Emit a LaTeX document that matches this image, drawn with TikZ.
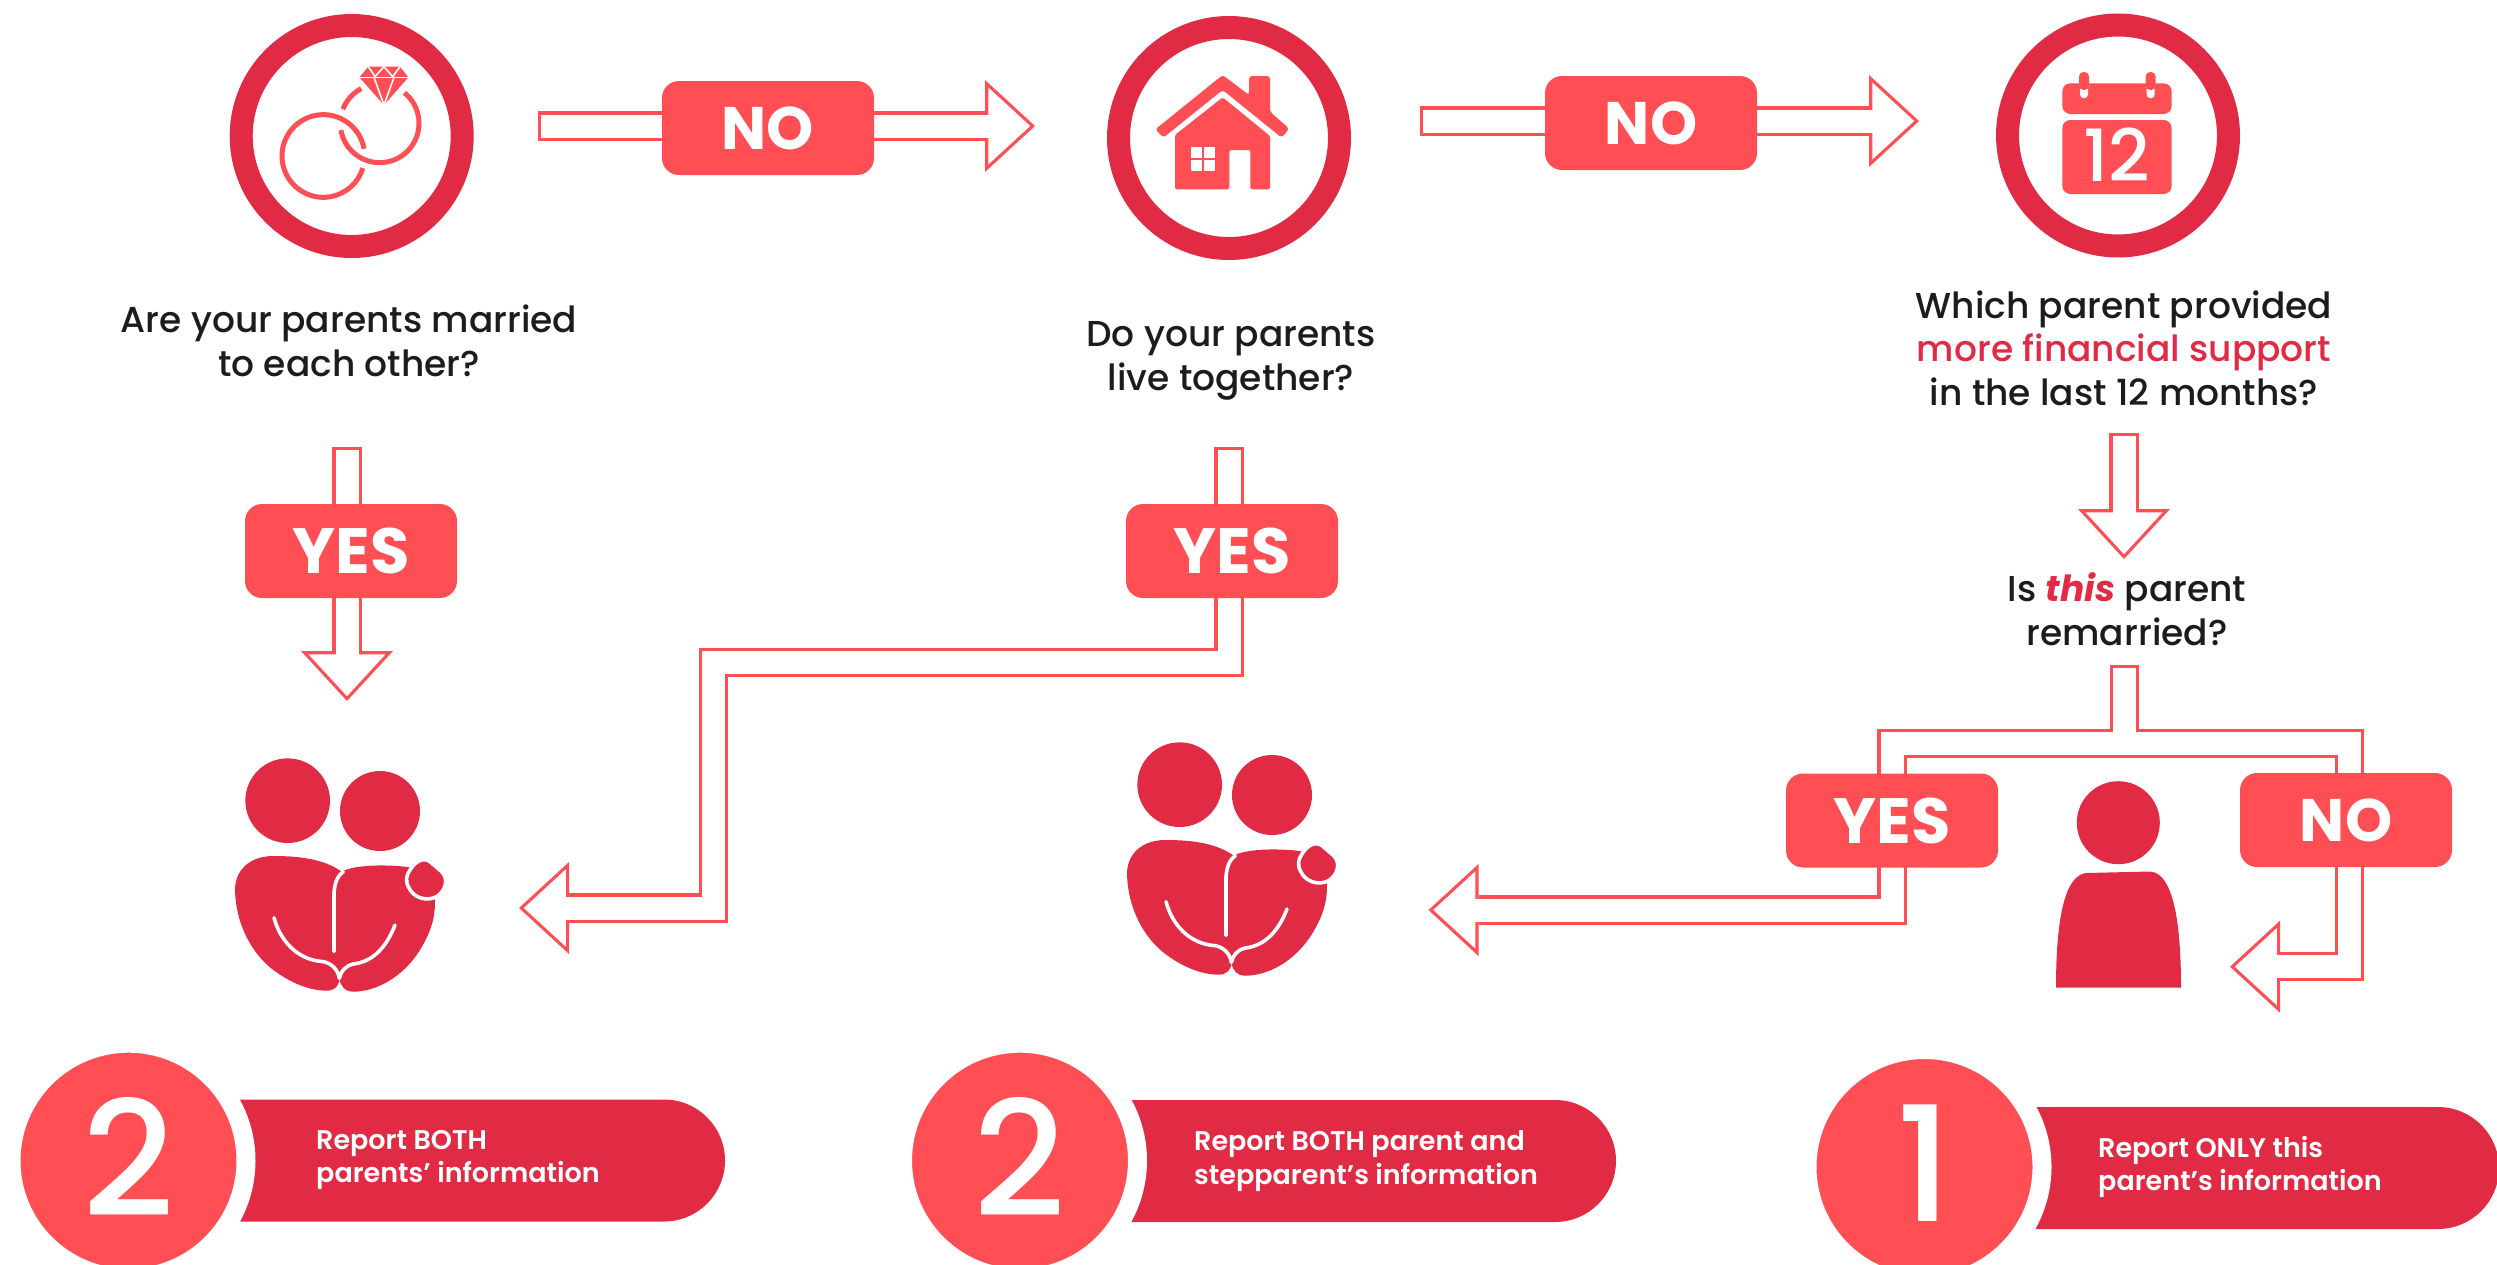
\documentclass[tikz,border=0pt]{standalone}
\usepackage{fontspec}
\usetikzlibrary{arrows.meta}
\setmainfont{Poppins}
\newfontfamily\medf{Poppins Medium}
\newfontfamily\semif{Poppins SemiBold}
\definecolor{flagcoral}{HTML}{FF4F55}
\definecolor{flagcrim}{HTML}{E12A44}
\definecolor{flagink}{HTML}{1C1C1C}
\tikzset{
  outerarrow/.style={flagcoral,line width=29.5pt,line join=miter,-{Triangle[length=50pt,width=92pt,line width=0pt]}},
  innerarrow/.style={white,line width=23pt,line join=miter,shorten >=4.8pt,shorten <=3.25pt,-{Triangle[length=41.95pt,width=77.2pt,line width=0pt]}},
  innershaft/.style={white,line width=23pt,line join=miter,shorten >=25pt,shorten <=3.25pt},
  tagbox/.style={rectangle,fill=flagcoral,rounded corners=17pt,minimum width=212pt,minimum height=94pt,inner sep=0pt,text=white,font=\bfseries\fontsize{60}{66}\selectfont},
  yesbox/.style={tagbox,font=\bfseries\fontsize{64}{68}\selectfont},
  iconring/.style={circle,draw=flagcrim,fill=white,line width=23pt,minimum size=221pt,inner sep=0pt},
  question/.style={align=center,text=flagink,inner sep=0pt,font=\medf\fontsize{36}{43.5}\selectfont},
  numdisc/.style={circle,draw=white,fill=flagcoral,line width=19pt,minimum size=235pt,inner sep=0pt,text=white,font=\medf\fontsize{160}{166}\selectfont},
  ribbontext/.style={anchor=west,align=left,inner sep=0pt,text=white,font=\semif\fontsize{27}{33.5}\selectfont},
  ringstroke/.style={draw=flagcoral,line width=5pt},
}
\newcommand\hollowarrow[1]{\draw[outerarrow] #1; \draw[innerarrow] #1; \draw[innershaft] #1;}
\newcommand\liftdigit[1]{\raisebox{4pt}[\height][\depth]{#1}}
\newcommand\familyicon{%
  \fill[flagcrim] (233,212) circle[radius=127];
  \fill[flagcrim] (510,243) circle[radius=120];
  \fill[flagcrim] (395,425) .. controls (340,385) and (260,378) .. (190,378)
    .. controls (120,378) and (75,420) .. (75,480)
    .. controls (78,590) and (130,670) .. (180,712)
    .. controls (240,760) and (300,782) .. (350,782)
    .. controls (372,782) and (388,770) .. (388,745)
    .. controls (392,770) and (405,785) .. (430,785)
    .. controls (500,785) and (580,740) .. (630,660)
    .. controls (660,610) and (675,570) .. (675,515)
    .. controls (675,470) and (640,415) .. (585,410)
    .. controls (520,403) and (430,405) .. (395,425) -- cycle;
  \draw[white,line width=3.6pt,line cap=round] (372,665) -- (372,490) .. controls (374,455) and (385,435) .. (400,425);
  \draw[white,line width=3.6pt,line cap=round] (192,563) .. controls (210,630) and (260,690) .. (340,695) .. controls (365,700) and (385,720) .. (388,745);
  \draw[white,line width=3.6pt,line cap=round] (555,585) .. controls (530,650) and (490,695) .. (430,702) .. controls (405,708) and (392,725) .. (388,745);
  \draw[white,line width=3.6pt,fill=flagcrim] (600,420) .. controls (615,395) and (640,380) .. (660,395) -- (695,425)
    .. controls (715,445) and (710,480) .. (680,500)
    .. controls (650,515) and (610,505) .. (595,470)
    .. controls (585,450) and (590,435) .. (600,420) -- cycle;
}
\begin{document}
\begin{tikzpicture}[x=1pt,y=-1pt]
\clip (0,0) rectangle (2497,1264);
\fill[white] (0,0) rectangle (2497,1264);

% free ends of the hollow arrows
\coordinate (a1tail) at (538,126);
\coordinate (a1tip) at (1035,125);
\coordinate (a2tail) at (1420,121);
\coordinate (a2tip) at (1919,120);
\coordinate (a3tail) at (347,447);
\coordinate (a3tip) at (347,701);
\coordinate (a4tail) at (1229,447);
\coordinate (a4b1) at (1229,662.5);
\coordinate (a4b2) at (713.5,662.5);
\coordinate (a4b3) at (713.5,908);
\coordinate (a4tip) at (519,908);
\coordinate (a5tail) at (2124,433);
\coordinate (a5tip) at (2124,559);
\coordinate (a6tail) at (2124.5,665);
\coordinate (a6j) at (2124.5,743.5);
\coordinate (a6l1) at (1892,743.5);
\coordinate (a6l2) at (1892,910);
\coordinate (a6ltip) at (1428.5,910);
\coordinate (a6r1) at (2349.5,743.5);
\coordinate (a6r2) at (2349.5,966.7);
\coordinate (a6rtip) at (2230,966.7);

% hollow arrows (under the tags)
\hollowarrow{(a1tail) -- (a1tail -| a1tip)}
\hollowarrow{(a2tail) -- (a2tail -| a2tip)}
\hollowarrow{(a3tail) -- (a3tip)}
\hollowarrow{(a4tail) -- (a4b1) -- (a4b2) -- (a4b3) -- (a4tip)}
\hollowarrow{(a5tail) -- (a5tip)}
\draw[outerarrow] (a6tail) -- (a6j) -- (a6l1) -- (a6l2) -- (a6ltip);
\draw[outerarrow] (a6tail) -- (a6j) -- (a6r1) -- (a6r2) -- (a6rtip);
\draw[innerarrow] (a6tail) -- (a6j) -- (a6l1) -- (a6l2) -- (a6ltip);
\draw[innerarrow] (a6tail) -- (a6j) -- (a6r1) -- (a6r2) -- (a6rtip);
\draw[innershaft] (a6tail) -- (a6j) -- (a6l1) -- (a6l2) -- (a6ltip);
\draw[innershaft] (a6tail) -- (a6j) -- (a6r1) -- (a6r2) -- (a6rtip);

% tags
\node[tagbox] (no1) at (768,128) {NO};
\node[tagbox] (no2) at (1651,123) {NO};
\node[yesbox] (yes1) at (351,551) {YES};
\node[yesbox] (yes2) at (1232,551) {YES};
\node[yesbox] (yes3) at (1892,820.5) {YES};
\node[tagbox] (no3) at (2346,820) {NO};

% icon rings
\node[iconring] (ring1) at (351.7,136) {};
\node[iconring] (ring2) at (1229,138) {};
\node[iconring] (ring3) at (2118,135.5) {};

% wedding rings
\begin{scope}[shift={(200,0)},scale=1/3]
  \draw[ringstroke] (370,468)+(-10:124) arc[start angle=-10,end angle=-343,radius=124];
  \draw[ringstroke] (539,370)+(-159:118) arc[start angle=-159,end angle=-118,radius=118];
  \draw[ringstroke] (539,370)+(-51:118) arc[start angle=-51,end angle=170,radius=118];
  \fill[flagcoral] (505,200) -- (600,200) -- (625,232) -- (552,315) -- (478,232) -- cycle;
  \draw[white,line width=1.6pt,line join=bevel] (505,200) -- (525,230) -- (552,200) -- (578,230) -- (600,200);
  \draw[white,line width=1.6pt] (478,232) -- (625,232);
  \draw[white,line width=1.6pt] (522,232) -- (552,315) -- (582,232);
\end{scope}

% house
\begin{scope}[shift={(1080,0)},scale=1/3]
  \fill[flagcoral,rounded corners=3pt] (226,388) -- (428,225) -- (507,285) -- (507,228) -- (570,228) -- (570,335) -- (628,386) -- (605,413) -- (428,270) -- (250,413) -- cycle;
  \fill[flagcoral,rounded corners=1.5pt] (285,405) -- (428,292) -- (570,408) -- (570,568) -- (511,568) -- (511,450) -- (448,450) -- (448,568) -- (285,568) -- cycle;
  \fill[white] (332,442) rectangle (404,514);
  \draw[flagcoral,line width=2.2pt] (368,442) -- (368,514) (332,478) -- (404,478);
\end{scope}

% calendar
\begin{scope}[shift={(1980,0)},scale=1/3]
  \fill[flagcoral,rounded corners=8pt] (247,342) -- (247,250) -- (575,250) -- (575,342) -- cycle;
  \fill[flagcoral,rounded corners=8pt] (247,360) -- (247,582) -- (575,582) -- (575,360) -- cycle;
  \fill[white,rounded corners=4pt] (300,240) rectangle (324,295);
  \fill[white,rounded corners=4pt] (500,240) rectangle (524,295);
  \fill[flagcoral,rounded corners=4.5pt] (297,216) rectangle (327,270);
  \fill[flagcoral,rounded corners=4.5pt] (497,216) rectangle (527,270);
\end{scope}
\node[inner sep=0pt,text=white,font=\medf\fontsize{72}{72}\selectfont] (twelve) at (2116.5,155) {12};

% question texts
\node[question] (q1) at (349,341) {Are your parents married\\to each other?};
\node[question] (q2) at (1231,361) {Do your parents\\live together?};
\node[question] (q3) at (2124,348) {Which parent provided\\\textcolor{flagcrim}{more financial support}\\in the last 12 months?};
\node[question] (q4) at (2127,609) {Is {\fontspec{Poppins}[BoldItalicFont=*-BoldItalic]\bfseries\itshape\textcolor{flagcrim}{this}} parent\\remarried?};

% family icons and person
\begin{scope}[shift={(210,730)},scale=1/3]
  \familyicon
\end{scope}
\begin{scope}[shift={(1102,714)},scale=1/3]
  \familyicon
\end{scope}
\fill[flagcrim] (2118.3,822.7) circle[radius=41.5];
\fill[flagcrim] (2056,987.5) .. controls (2056,930) and (2062,876) .. (2086,873) -- (2150,871.5) .. controls (2175,873) and (2181,930) .. (2181,987.5) -- cycle;

% result ribbons
\fill[flagcrim] (225,1099.5) -- (664,1099.5) arc[start angle=-90,end angle=90,radius=61] -- (225,1221.5) -- cycle;
\fill[flagcrim] (1115,1100) -- (1555,1100) arc[start angle=-90,end angle=90,radius=61] -- (1115,1222) -- cycle;
\fill[flagcrim] (2020,1107) -- (2438,1107) arc[start angle=-90,end angle=90,radius=61] -- (2020,1229) -- cycle;
\node[numdisc] (n1) at (128.5,1160.7) {\liftdigit{2}};
\node[numdisc] (n2) at (1020,1160.7) {\liftdigit{2}};
\node[numdisc] (n3) at (1924.5,1167) {\liftdigit{1}};
\node[ribbontext] (r1) at (316,1160) {Report BOTH\\parents’ information};
\node[ribbontext] (r2) at (1194,1161) {Report BOTH parent and\\stepparent’s information};
\node[ribbontext] (r3) at (2098,1167) {Report ONLY this\\parent’s information};
\end{tikzpicture}
\end{document}
